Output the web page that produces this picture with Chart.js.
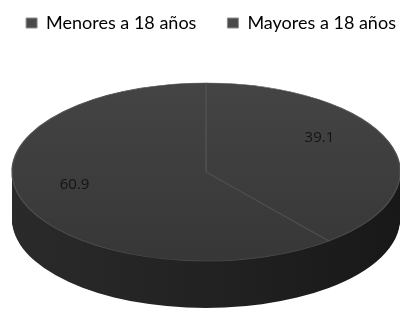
<!DOCTYPE html>
<html>
<head>
<meta charset="utf-8">
<script src="https://cdn.jsdelivr.net/npm/chart.js@4"></script>
<style>
  html, body { margin: 0; background: #fff; }
  #wrap { width: 400px; height: 310px; }
</style>
</head>
<body>
<div id="wrap"><canvas id="pieChart"></canvas></div>
<script>
const categories = ['Menores a 18 años', 'Mayores a 18 años'];
const values = [39.1, 60.9];

// where the tilted disc sits on the page
const disc = { cx: 206, cy: 172, rx: 194, ry: 89, depth: 47 };

function faceGradient(context) {
  const chart = context.chart;
  const area = chart.chartArea;
  if (!area) return '#3d3d3d';
  const g = chart.ctx.createLinearGradient(0, area.top, 0, area.bottom);
  g.addColorStop(0, '#444444');
  g.addColorStop(1, '#373737');
  return g;
}

const tiltPlugin = {
  id: 'tilt',
  beforeDatasetsDraw(chart) {
    const ctx = chart.ctx;
    const arcs = chart.getDatasetMeta(0).data;
    const first = arcs[0];
    const r = first.outerRadius;

    ctx.save();
    // side of the disc, stacked slices pushed down
    const side = ctx.createLinearGradient(disc.cx - disc.rx, 0, disc.cx + disc.rx, 0);
    side.addColorStop(0, '#2a2a2a');
    side.addColorStop(0.5, '#222222');
    side.addColorStop(1, '#181818');
    ctx.fillStyle = side;
    for (let d = disc.depth; d > 0; d--) {
      ctx.beginPath();
      arcs.forEach(a => {
        ctx.moveTo(disc.cx, disc.cy + d);
        ctx.ellipse(disc.cx, disc.cy + d, disc.rx, disc.ry, 0, a.startAngle, a.endAngle);
      });
      ctx.fill();
    }

    // top face: the library draws it inside this squashed frame
    ctx.translate(disc.cx, disc.cy);
    ctx.scale(disc.rx / r, disc.ry / r);
    ctx.translate(-first.x, -first.y);
  },
  afterDatasetsDraw(chart) {
    const ctx = chart.ctx;
    ctx.restore();

    // value labels, placed along each slice's middle angle
    const arcs = chart.getDatasetMeta(0).data;
    ctx.save();
    ctx.font = '15px "Open Sans"';
    ctx.fillStyle = '#141414';
    ctx.textAlign = 'center';
    ctx.textBaseline = 'middle';
    arcs.forEach((a, i) => {
      const mid = (a.startAngle + a.endAngle) / 2;
      const x = disc.cx - 9 + 0.67 * disc.rx * Math.cos(mid);
      const y = disc.cy - 11 + 0.79 * disc.ry * Math.sin(mid);
      ctx.fillText(String(values[i]), x, y);
    });
    ctx.restore();
  }
};

new Chart(document.getElementById('pieChart'), {
  type: 'pie',
  data: {
    labels: categories,
    datasets: [{
      data: values,
      backgroundColor: faceGradient,
      borderColor: '#505050',
      borderWidth: 1,
      clip: false
    }]
  },
  options: {
    responsive: true,
    maintainAspectRatio: false,
    animation: false,
    events: [],
    // wide legend box so both entries stay on one row
    layout: { padding: { left: -9, right: -31, top: -17 } },
    plugins: {
      tooltip: { enabled: false },
      legend: {
        position: 'top',
        labels: {
          boxWidth: 11,
          boxHeight: 10,
          padding: 31,
          color: '#222',
          font: { family: 'Lato', size: 18 },
          generateLabels(chart) {
            return categories.map((c, i) => ({
              text: c,
              fillStyle: '#4a4a4a',
              strokeStyle: '#8c8c8c',
              lineWidth: 1,
              index: i,
              hidden: false
            }));
          }
        }
      }
    }
  },
  plugins: [tiltPlugin]
});
</script>
</body>
</html>
